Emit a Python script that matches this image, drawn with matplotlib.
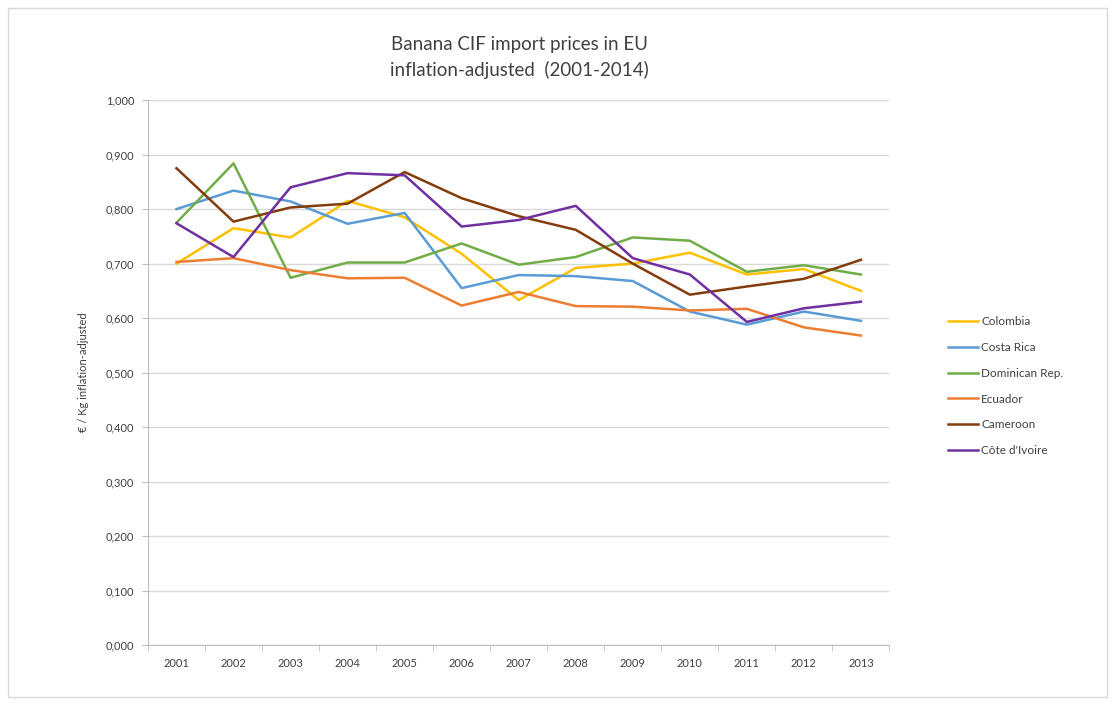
import matplotlib.pyplot as plt
from matplotlib.patches import Rectangle
from matplotlib.ticker import FuncFormatter, FixedLocator

plt.rcParams['font.family'] = ['Lato', 'DejaVu Sans']

# data
years = ['2001', '2002', '2003', '2004', '2005', '2006', '2007',
         '2008', '2009', '2010', '2011', '2012', '2013']
colombia = [0.700, 0.765, 0.748, 0.815, 0.785, 0.718, 0.633, 0.692, 0.700, 0.720, 0.680, 0.690, 0.650]
costa_rica = [0.800, 0.834, 0.814, 0.773, 0.793, 0.655, 0.679, 0.677, 0.668, 0.612, 0.588, 0.612, 0.595]
dominican = [0.775, 0.884, 0.674, 0.702, 0.702, 0.737, 0.698, 0.712, 0.748, 0.742, 0.685, 0.697, 0.680]
ecuador = [0.703, 0.710, 0.688, 0.673, 0.674, 0.623, 0.648, 0.622, 0.621, 0.614, 0.617, 0.583, 0.568]
cameroon = [0.875, 0.777, 0.803, 0.810, 0.868, 0.820, 0.787, 0.762, 0.700, 0.643, 0.658, 0.672, 0.707]
cote = [0.774, 0.712, 0.840, 0.866, 0.862, 0.768, 0.780, 0.806, 0.710, 0.680, 0.593, 0.618, 0.630]

series = [('Colombia', colombia, '#FFC000'),
          ('Costa Rica', costa_rica, '#5B9BD5'),
          ('Dominican Rep.', dominican, '#70AD47'),
          ('Ecuador', ecuador, '#ED7D31'),
          ('Cameroon', cameroon, '#843C0C'),
          ("Côte d'Ivoire", cote, '#7030A0')]

fig = plt.figure(figsize=(11.15, 7.05), dpi=100)
ax = fig.add_axes([0.1327, 0.085, 0.665, 0.773])

x = list(range(len(years)))
for name, vals, col in series:
    ax.plot(x, vals, color=col, lw=1.8, label=name)

ax.set_xlim(-0.5, len(years) - 0.5)
ax.set_ylim(0, 1.0)
ax.set_yticks([i / 10 for i in range(11)])
ax.yaxis.set_major_formatter(FuncFormatter(lambda v, p: f'{v:.3f}'.replace('.', ',')))
ax.set_xticks(x)
ax.set_xticklabels(years)
ax.xaxis.set_minor_locator(FixedLocator([i - 0.5 for i in range(len(years) + 1)]))
ax.tick_params(axis='x', which='major', length=0, pad=9, labelsize=8, colors='#404040')
ax.tick_params(axis='x', which='minor', length=4, color='#BFBFBF')
ax.tick_params(axis='y', length=4, color='#BFBFBF', labelsize=8, labelcolor='#404040', pad=6)

ax.grid(axis='y', color='#D9D9D9', lw=1)
ax.set_axisbelow(True)
for s in ['top', 'right']:
    ax.spines[s].set_visible(False)
ax.spines['left'].set_color('#BFBFBF')
ax.spines['bottom'].set_color('#BFBFBF')

ax.set_ylabel('€ / Kg inflation-adjusted', fontsize=8, color='#404040', labelpad=12)

fig.text(0.466, 0.918, 'Banana CIF import prices in EU\ninflation-adjusted  (2001-2014)',
         ha='center', va='center', fontsize=13.5, color='#404040', linespacing=1.55)

leg = ax.legend(loc='center left', bbox_to_anchor=(1.065, 0.475), frameon=False,
                fontsize=8.5, handlelength=2.5, handletextpad=0.3, labelspacing=1.25)
for t in leg.get_texts():
    t.set_color('#404040')

fig.patches.append(Rectangle((0.007, 0.011), 0.986, 0.978, transform=fig.transFigure,
                             fill=False, edgecolor='#D9D9D9', lw=1))

fig.savefig('out.png', dpi=100)
